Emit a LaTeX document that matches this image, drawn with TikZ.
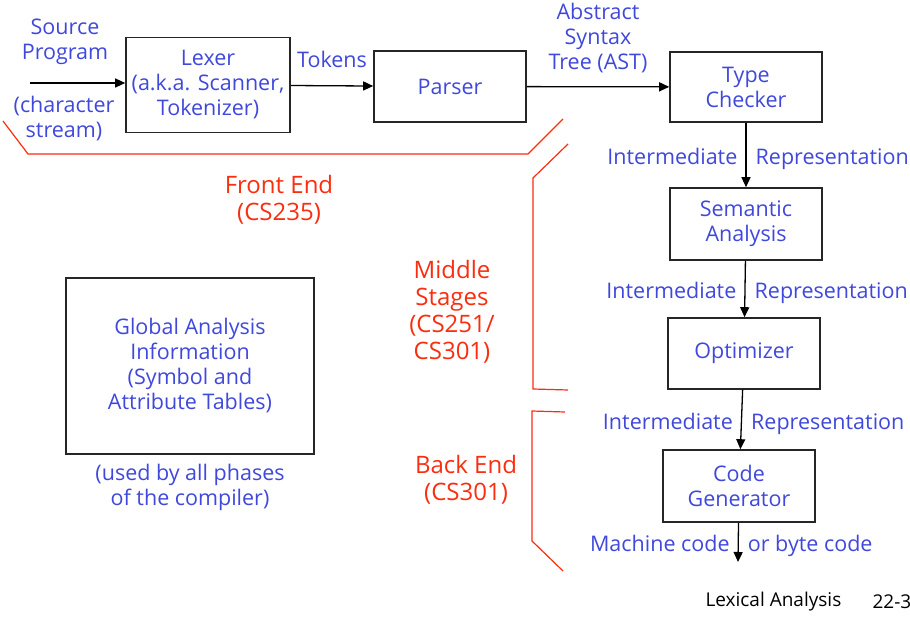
\documentclass[tikz,border=0pt]{standalone}
\usepackage{fontspec}
\setmainfont{Open Sans}
\usepackage{xcolor}
\usepackage{tikz}
\usetikzlibrary{arrows.meta, positioning, calc}
\definecolor{stageblue}{RGB}{64,72,220}
\definecolor{partred}{RGB}{250,45,15}

\begin{document}
\begin{tikzpicture}[
    x=1pt, y=-1pt,
    font=\fontsize{21.5}{25}\selectfont,
    >={Triangle[length=10pt, width=9pt]},
    stage/.style={rectangle, draw=black!85, line width=1.6pt, text=stageblue, minimum width=#1, align=center, inner sep=0pt},
    stage/.default=152pt,
    lbl/.style={text=stageblue, align=center, inner sep=3pt},
    side/.style={lbl, text height=22pt, text depth=3pt},
    part/.style={text=partred, align=center, inner sep=0pt, font=\fontsize{24}{27}\selectfont},
    conn/.style={->, line width=1.3pt},
    bracket/.style={partred, line width=1.2pt},
]
    \useasboundingbox (0,0) rectangle (910,617);

    \node[stage=164pt, minimum height=95pt] (lexer) at (208,85) {Lexer\\(a.k.a. Scanner,\\Tokenizer)};
    \node[stage, minimum height=71pt] (parser) at (450,86.5) {Parser};
    \node[stage, minimum height=70pt] (checker) at (746,87) {Type\\Checker};
    \node[stage, minimum height=72pt] (semantic) at (746,224) {Semantic\\Analysis};
    \node[stage, minimum height=71pt] (optimizer) at (744,353.5) {Optimizer};
    \node[stage, minimum height=72pt] (codegen) at (739,486) {Code\\Generator};
    \node[stage=248pt, minimum height=176pt] (global) at (190,366) {Global Analysis\\Information\\(Symbol and\\Attribute Tables)};
    \node[lbl, below=6pt of global] (usedby) {(used by all phases\\of the compiler)};

    \node[lbl] (source) at (65,42) {Source\\Program};
    \node[lbl] (stream) at (64,119) {(character\\stream)};
    \coordinate (src) at (30,83);
    \coordinate (out) at (738,562);

    \draw[conn] (src) -- (src -| lexer.west);
    \draw[conn] (lexer) -- (parser) node[midway, lbl, above=14pt] {Tokens};
    \draw[conn] (parser) -- (checker) node[midway, lbl, above=10pt] {Abstract\\Syntax\\Tree (AST)};
    \draw[conn] (checker) -- (semantic) node[midway, side, left=5pt] {Intermediate} node[midway, side, right=6pt] {Representation};
    \draw[conn] (semantic) -- (optimizer) node[midway, side, left=5pt] {Intermediate} node[midway, side, right=6pt] {Representation};
    \draw[conn] (optimizer) -- (codegen) node[midway, side, left=5pt] {Intermediate} node[midway, side, right=6pt] {Representation};
    \draw[conn] (codegen) -- (out) node[midway, side, left=5pt] {Machine code} node[midway, side, right=6pt] {or byte code};

    % Compiler parts
    \node[part] (front) at (279,200) {Front End\\(CS235)};
    \node[part] (middle) at (452,311.5) {Middle\\Stages\\(CS251/\\CS301)};
    \node[part] (back) at (466,479.5) {Back End\\(CS301)};
    \draw[bracket] (3,121) -- (28,154) -- (528,154) -- (563,119);
    \draw[bracket] (568,144) -- (533,178) -- (533,389) -- (568,390);
    \draw[bracket] (565,412) -- (532,411) -- (532,541) -- (563,571);

    \node[anchor=west, font=\fontsize{19}{22}\selectfont] (title) at (702,602) {Lexical Analysis};
    \node[anchor=west, font=\fontsize{19}{22}\selectfont] (page) at (869,602) {22-3};
\end{tikzpicture}
\end{document}
